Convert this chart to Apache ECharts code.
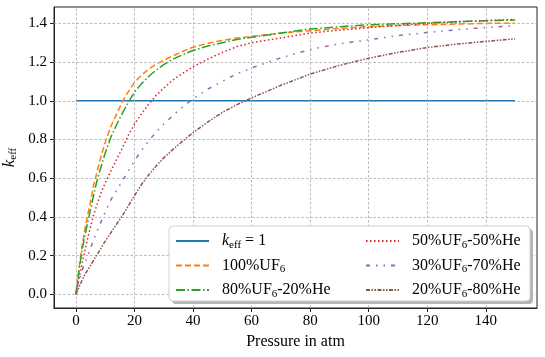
<!DOCTYPE html>
<html>
<head>
<meta charset="utf-8">
<script src="https://cdn.jsdelivr.net/npm/echarts@6/dist/echarts.min.js"></script>
<style>
html,body{margin:0;padding:0;background:#fff;}
#main{width:545px;height:357px;}
</style>
</head>
<body>
<div id="main"></div>
<script>
// pressure points (atm) shared by the mixture curves
var pressure = [0,1,2,3,4,5,6,7,8,9,10,12,14,16,18,20,22.5,25,27.5,30,32.5,35,37.5,40,45,50,55,60,70,80,90,100,110,120,130,140,150];
var uf100 = [0,0.13,0.24,0.33,0.41,0.48,0.56,0.62,0.68,0.735,0.785,0.87,0.935,1.0,1.05,1.095,1.135,1.165,1.19,1.21,1.228,1.245,1.262,1.277,1.297,1.312,1.324,1.333,1.35,1.362,1.374,1.383,1.389,1.393,1.397,1.4,1.401];
var uf80 = [0,0.115,0.22,0.30,0.37,0.44,0.51,0.575,0.63,0.68,0.73,0.815,0.88,0.94,0.995,1.045,1.09,1.128,1.16,1.187,1.21,1.228,1.245,1.26,1.283,1.30,1.317,1.328,1.35,1.371,1.383,1.393,1.398,1.403,1.409,1.414,1.417];
var uf50 = [0,0.08,0.15,0.22,0.29,0.35,0.41,0.455,0.50,0.54,0.575,0.64,0.70,0.76,0.825,0.88,0.935,0.985,1.03,1.065,1.10,1.128,1.152,1.176,1.215,1.25,1.28,1.30,1.325,1.35,1.365,1.378,1.39,1.40,1.408,1.414,1.421];
var uf30 = [0,0.065,0.12,0.16,0.20,0.24,0.28,0.32,0.355,0.39,0.425,0.49,0.54,0.59,0.64,0.69,0.745,0.795,0.84,0.88,0.915,0.95,0.98,1.01,1.06,1.10,1.14,1.17,1.222,1.265,1.295,1.315,1.337,1.353,1.367,1.379,1.388];
var uf20 = [0,0.035,0.07,0.10,0.125,0.15,0.175,0.20,0.225,0.25,0.275,0.32,0.365,0.41,0.46,0.51,0.57,0.62,0.665,0.705,0.74,0.773,0.805,0.835,0.89,0.94,0.98,1.015,1.08,1.138,1.183,1.22,1.25,1.275,1.293,1.307,1.32];
var keffX = [0,150];
var keffY = [1,1];

var xTicks = [0,20,40,60,80,100,120,140];
var yTicks = [0,0.2,0.4,0.6,0.8,1.0,1.2,1.4];

var names = ['keff=1','100%UF6','80%UF6-20%He','50%UF6-50%He','30%UF6-70%He','20%UF6-80%He'];
var labels = {
    'keff=1': '{i|k}{s|eff} = 1',
    '100%UF6': '100%UF{s|6}',
    '80%UF6-20%He': '80%UF{s|6}-20%He',
    '50%UF6-50%He': '50%UF{s|6}-50%He',
    '30%UF6-70%He': '30%UF{s|6}-70%He',
    '20%UF6-80%He': '20%UF{s|6}-80%He'
};
var colors = ['#1f77b4','#ff7f0e','#2ca02c','#d62728','#9467bd','#8c564b'];
var dashes = ['solid',[6,3],[9,2.5,1.5,2.5],[1.5,2.5],[4,6,1.5,6,1.5,6],[4,1.5,1.5,1.5,1.5,1.5]];

function pairs(xs, ys){
    var out = [];
    for(var i=0;i<xs.length;i++){
        out.push([xs[i], ys[i]]);
    }
    return out;
}

var font = 'Liberation Serif';
var rich = {
    i: {fontStyle:'italic', fontFamily:font, fontSize:16, color:'#000'},
    s: {fontFamily:font, fontSize:11, color:'#000', padding:[8,0,0,0]}
};

var curves = [keffY, uf100, uf80, uf50, uf30, uf20];
var series = [];
// grid lines drawn as mark lines on a hidden helper series
var gridLines = [];
for(var i=0;i<xTicks.length;i++) gridLines.push({xAxis:xTicks[i]});
for(var i=0;i<yTicks.length;i++) gridLines.push({yAxis:yTicks[i]});
series.push({
    name:'grid',
    type:'line',
    data:[],
    z:1,
    silent:true,
    markLine:{
        silent:true,
        symbol:['none','none'],
        label:{show:false},
        lineStyle:{color:'#a8a8a8', width:0.8, type:[2.5,2]},
        data:gridLines
    }
});
for(var i=0;i<names.length;i++){
    series.push({
        name:names[i],
        type:'line',
        symbol:'none',
        showSymbol:false,
        z:3+i,
        color:colors[i],
        lineStyle:{color:colors[i], width:1.5, type:dashes[i]},
        data: i==0 ? pairs(keffX, keffY) : pairs(pressure, curves[i])
    });
}

var legendBase = {
    orient:'vertical',
    top:233,
    padding:0,
    itemWidth:33,
    itemHeight:14,
    itemGap:7,
    z:100,
    selectedMode:false,
    itemStyle:{color:'rgba(0,0,0,0)', borderWidth:0, borderColor:'rgba(0,0,0,0)'},
    formatter:function(name){ return labels[name]; },
    textStyle:{fontFamily:font, fontSize:16, color:'#000', padding:[0,0,0,8], rich:rich}
};

var myChart = echarts.init(document.getElementById('main'));
myChart.setOption({
    animation:false,
    grid:{left:54, right:8, top:7, bottom:49, outerBoundsMode:'none', containLabel:false,
        show:true, borderColor:'#222', borderWidth:1, backgroundColor:'transparent'},
    xAxis:{
        type:'value',
        min:-7.5,
        max:157.5,
        name:'Pressure in atm',
        nameLocation:'middle',
        nameGap:26,
        nameMoveOverlap:false,
        nameTextStyle:{fontFamily:font, fontSize:16, color:'#000'},
        axisLine:{show:true, onZero:false, lineStyle:{color:'#222'}},
        axisTick:{show:true, length:4, customValues:xTicks, lineStyle:{color:'#222'}},
        axisLabel:{customValues:xTicks, fontFamily:font, fontSize:15, color:'#000', margin:6},
        splitLine:{show:false}
    },
    yAxis:{
        type:'value',
        min:-0.0707,
        max:1.4847,
        name:'{i|k}{s|eff}',
        nameLocation:'middle',
        nameGap:35,
        nameMoveOverlap:false,
        nameTextStyle:{fontFamily:font, fontSize:16, color:'#000', rich:{
            i:{fontStyle:'italic', fontFamily:font, fontSize:17, color:'#000'},
            s:{fontFamily:font, fontSize:11, color:'#000', padding:[8,0,0,0]}
        }},
        axisLine:{show:true, onZero:false, lineStyle:{color:'#222'}},
        axisTick:{show:true, length:4, customValues:yTicks, lineStyle:{color:'#222'}},
        axisLabel:{customValues:yTicks, fontFamily:font, fontSize:15, color:'#000', margin:7,
            formatter:function(v){ return v.toFixed(1); }},
        splitLine:{show:false}
    },
    legend:[
        Object.assign({}, legendBase, {left:175, data:names.slice(0,3)}),
        Object.assign({}, legendBase, {left:365, data:names.slice(3,6)})
    ],
    graphic:[
        {type:'rect', z:50, shape:{x:172, y:229, width:361, height:75, r:4}, style:{fill:'#b5b5b5'}},
        {type:'rect', z:51, shape:{x:169, y:226, width:361, height:75, r:4}, style:{fill:'#fff', stroke:'#d0d0d0', lineWidth:1}}
    ],
    series:series
});
</script>
</body>
</html>
